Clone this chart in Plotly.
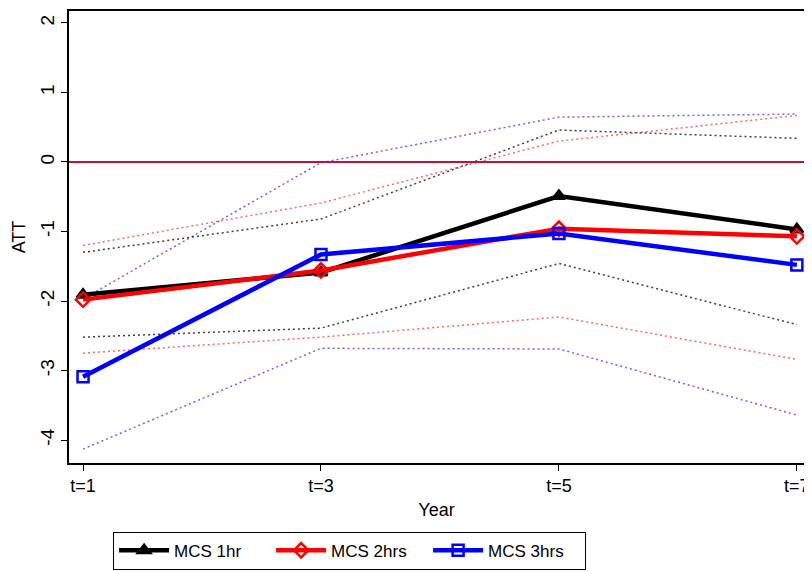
import plotly.graph_objects as go

years = [1, 3, 5, 7]
tick_labels = ["t=1", "t=3", "t=5", "t=7"]
y_ticks = [-4, -3, -2, -1, 0, 1, 2]
y_tick_labels = ["-4", "-3", "-2", "-1", "0", "1", "2"]

att_1hr = [-1.91, -1.59, -0.49, -0.97]
up_1hr = [-1.30, -0.82, 0.46, 0.34]
lo_1hr = [-2.52, -2.39, -1.46, -2.34]

att_2hrs = [-1.98, -1.56, -0.96, -1.07]
up_2hrs = [-1.20, -0.59, 0.30, 0.67]
lo_2hrs = [-2.75, -2.52, -2.23, -2.84]

att_3hrs = [-3.09, -1.33, -1.03, -1.48]
up_3hrs = [-1.97, -0.01, 0.645, 0.69]
lo_3hrs = [-4.13, -2.68, -2.69, -3.64]

FONT = "Liberation Sans, Arial, sans-serif"

fig = go.Figure()

ci_specs = [
    (up_1hr, lo_1hr, "rgba(0,0,0,0.75)"),
    (up_2hrs, lo_2hrs, "rgba(255,0,0,0.6)"),
    (up_3hrs, lo_3hrs, "rgba(0,0,255,0.6)"),
]
for up, lo, col in ci_specs:
    for arr in (up, lo):
        fig.add_trace(go.Scatter(
            x=years, y=arr, mode="lines", showlegend=False, hoverinfo="skip",
            line=dict(color=col, width=1.5, dash="2px,3px"),
        ))

main_specs = [
    ("MCS 1hr", att_1hr, "black", "triangle-up"),
    ("MCS 2hrs", att_2hrs, "red", "diamond-open"),
    ("MCS 3hrs", att_3hrs, "blue", "square-open"),
]
for name, arr, col, sym in main_specs:
    fig.add_trace(go.Scatter(
        x=years, y=arr, mode="lines+markers", name=name,
        line=dict(color=col, width=4.5),
        marker=dict(symbol=sym, size=11, color=col, line=dict(color=col, width=2.5)),
    ))

fig.add_hline(y=0, line=dict(color="#C0103C", width=2))

fig.update_layout(
    width=804, height=563,
    margin=dict(l=61, r=8, t=1, b=108),
    paper_bgcolor="white", plot_bgcolor="white",
    font=dict(family=FONT, size=18, color="black"),
    showlegend=True,
    legend=dict(
        orientation="h", x=0.06, xanchor="left", y=-0.152, yanchor="top",
        bordercolor="black", borderwidth=1, bgcolor="white",
        font=dict(family=FONT, size=17), tracegroupgap=0,
        entrywidth=92, itemwidth=50,
    ),
    xaxis=dict(
        range=[0.882, 7.06], tickvals=years, ticktext=tick_labels,
        showgrid=False, zeroline=False, showline=True, mirror=True,
        linecolor="black", linewidth=1.5, ticks="outside", ticklen=6,
        tickcolor="black", tickfont=dict(size=18),
        title=dict(text="Year", font=dict(size=18), standoff=8),
    ),
    yaxis=dict(
        range=[-4.33, 2.172], tickvals=y_ticks, ticktext=y_tick_labels,
        showgrid=False, zeroline=False, showline=True, mirror=True,
        linecolor="black", linewidth=1.5, ticks="outside", ticklen=6,
        tickcolor="black", tickangle=-90, tickfont=dict(size=19),
        title=dict(text="ATT", font=dict(size=18), standoff=6),
    ),
)

fig.write_html("out.html")
